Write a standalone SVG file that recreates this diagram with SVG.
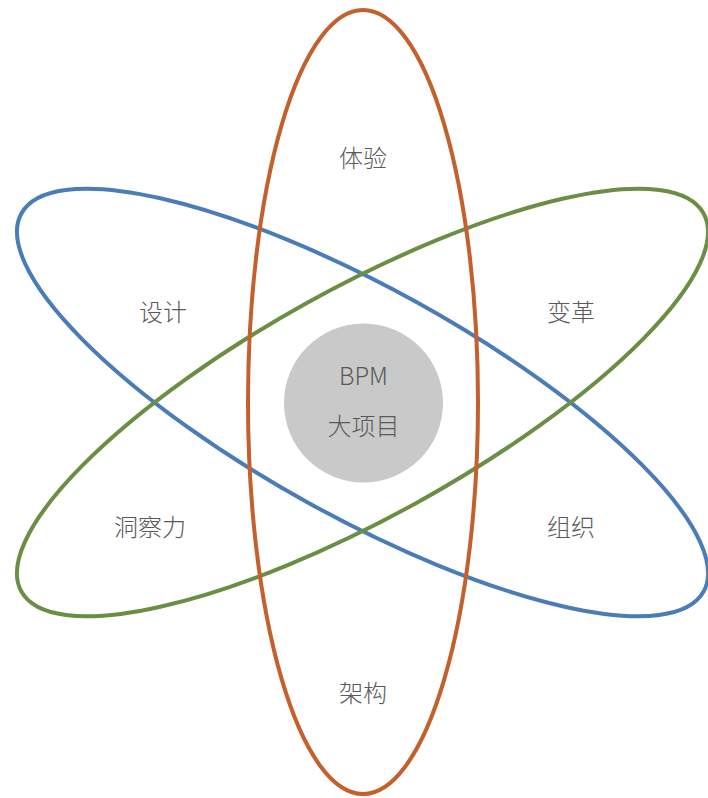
<svg xmlns="http://www.w3.org/2000/svg" width="708" height="798" viewBox="0 0 708 798">
<style>
.orb{fill:none;stroke-width:4}
.lbl{font-family:"Noto Sans CJK SC","Liberation Sans",sans-serif;font-size:24px;font-weight:300;fill:#595959;text-anchor:middle}
</style>
<rect width="708" height="798" fill="#ffffff"/>
<g id="connectors">
<ellipse id="orbit-blue" class="orb" cx="362.5" cy="402.5" rx="114" ry="390" stroke="#4A7DB8" transform="rotate(-61 362.5 402.5)"/>
<ellipse id="orbit-green" class="orb" cx="362.5" cy="402.5" rx="114" ry="390" stroke="#6A8F44" transform="rotate(61 362.5 402.5)"/>
<ellipse id="orbit-orange" class="orb" cx="363" cy="402" rx="115" ry="392" stroke="#C4602C"/>
</g>
<g id="core">
<circle cx="363.5" cy="403" r="79.5" fill="#C9C9C9"/>
<text class="lbl" x="363.5" y="385">BPM</text>
<text class="lbl" x="363.5" y="435">大项目</text>
</g>
<g id="n-tiyan"><text class="lbl" x="363" y="167">体验</text></g>
<g id="n-sheji"><text class="lbl" x="163" y="321">设计</text></g>
<g id="n-biange"><text class="lbl" x="571" y="321">变革</text></g>
<g id="n-dongchali"><text class="lbl" x="150" y="536">洞察力</text></g>
<g id="n-zuzhi"><text class="lbl" x="571" y="536">组织</text></g>
<g id="n-jiagou"><text class="lbl" x="363" y="702">架构</text></g>
</svg>
